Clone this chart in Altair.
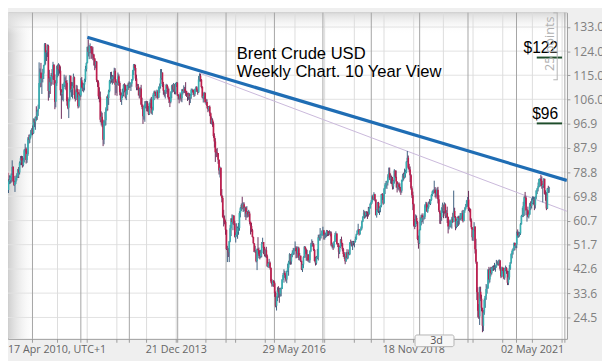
import altair as alt
import pandas as pd

# ---------------- data ----------------
first_open = 86.0  # open of the first weekly candle

# weekly candles (close, high, low), one list per year, week by week from its start Sunday
w2010 = [
    (86.2, 87.5, 83.8), (86.2, 88.9, 84.6),
    (80.1, 87.0, 77.9), (77.9, 83.0, 75.0), (71.0, 78.0, 69.7), (74.0, 75.4, 68.8), (72.1, 75.5, 71.1),
    (74.1, 75.5, 70.9), (77.4, 77.9, 73.1), (78.6, 79.3, 75.6), (72.1, 78.7, 71.6),
    (75.4, 76.1, 71.0), (75.9, 77.6, 74.3), (76.9, 77.4, 74.5), (77.9, 78.3, 74.9),
    (80.7, 83.2, 77.8), (75.4, 81.0, 75.0), (74.0, 77.4, 73.6), (75.2, 75.6, 71.4), (76.7, 77.5, 74.4),
    (77.1, 78.4, 75.7), (79.6, 80.0, 76.6), (78.7, 80.7, 76.6), (82.3, 82.8, 77.9),
    (84.0, 84.8, 81.4), (83.1, 84.9, 81.4), (81.5, 84.8, 80.5), (83.2, 84.2, 80.9), (87.0, 87.4, 82.4),
    (87.5, 89.4, 86.1), (83.3, 88.0, 82.0), (85.6, 86.7, 82.3), (91.4, 91.9, 84.9),
    (91.0, 92.8, 89.4), (92.1, 92.9, 89.7), (93.5, 94.5, 91.4), (94.8, 95.2, 92.7),
]
w2011 = [
    (93.3, 96.2, 92.6), (98.7, 98.8, 93.1), (97.4, 98.7, 95.6), (99.4, 99.6, 94.6), (99.2, 103.4, 98.0),
    (101.4, 102.0, 98.3), (102.5, 104.0, 99.8), (112.1, 119.8, 103.4), (116.0, 117.5, 110.4),
    (113.8, 119.6, 110.6), (113.9, 115.6, 108.0), (115.6, 117.4, 112.3), (118.7, 118.9, 113.6),
    (126.6, 127.0, 118.6), (123.5, 127.0, 119.0), (123.7, 124.3, 120.3), (125.9, 126.5, 121.8),
    (109.1, 126.4, 105.5), (113.8, 117.0, 106.6), (112.4, 114.3, 108.0), (115.1, 115.8, 111.0), (114.6, 117.3, 111.5),
    (118.8, 120.0, 113.4), (113.2, 119.2, 111.4), (105.1, 115.3, 102.3), (112.0, 112.7, 103.0),
    (118.3, 118.6, 111.0), (117.2, 119.0, 114.2), (118.7, 119.5, 114.8), (116.7, 119.0, 115.6),
    (109.4, 118.3, 107.4), (108.0, 109.8, 98.7), (108.6, 111.8, 105.7), (111.4, 111.6, 105.2), (112.3, 115.2, 110.6),
    (112.8, 114.2, 109.8), (112.2, 114.9, 109.4), (105.3, 113.2, 103.6), (102.8, 106.8, 102.3),
    (105.9, 106.2, 99.0), (114.8, 115.0, 105.2), (109.6, 113.9, 108.6), (109.9, 112.5, 106.9), (111.0, 112.4, 106.3),
    (114.2, 115.6, 110.3), (107.6, 114.5, 106.2), (106.4, 109.4, 105.2), (109.9, 111.4, 105.7),
    (108.6, 111.2, 106.8), (103.4, 109.8, 102.6), (107.9, 108.6, 102.9), (107.4, 109.7, 105.6),
]
w2012 = [
    (113.1, 113.9, 106.9), (110.4, 114.3, 110.0), (110.3, 112.3, 109.0), (111.5, 112.0, 108.6), (113.3, 113.7, 109.3),
    (117.3, 118.5, 112.5), (119.6, 119.8, 116.4), (125.5, 125.7, 119.4), (123.7, 128.4, 122.0),
    (125.7, 126.2, 121.0), (125.8, 126.9, 123.2), (125.1, 125.8, 121.1), (122.9, 125.9, 121.2),
    (122.7, 125.6, 120.6), (121.2, 123.0, 118.6), (118.7, 121.4, 116.9), (120.1, 120.4, 117.6), (113.2, 120.3, 112.5),
    (112.3, 113.3, 110.6), (107.1, 113.0, 106.1), (106.8, 110.5, 104.9), (98.4, 108.9, 97.4),
    (99.5, 101.5, 96.2), (97.0, 101.0, 95.6), (90.9, 98.4, 88.5), (97.8, 98.0, 89.2),
    (98.2, 101.3, 96.0), (102.4, 103.0, 96.3), (107.0, 107.1, 101.5), (106.5, 107.8, 101.8), (109.0, 109.6, 103.9),
    (112.9, 113.2, 108.6), (113.7, 116.2, 111.8), (113.6, 116.3, 112.2), (114.6, 115.1, 111.5),
    (114.3, 115.0, 112.0), (116.7, 117.8, 113.5), (111.4, 117.6, 107.5), (112.4, 112.9, 108.3), (112.0, 113.5, 107.3),
    (114.6, 116.0, 111.3), (112.1, 115.3, 111.0), (108.6, 112.7, 107.5), (105.7, 109.8, 105.0),
    (107.5, 108.4, 103.9), (108.9, 110.0, 106.5), (111.4, 111.6, 107.1), (111.2, 112.0, 108.6),
    (107.0, 111.5, 106.3), (109.2, 109.9, 105.7), (111.3, 111.5, 107.7), (111.1, 112.2, 109.5), (111.3, 112.7, 110.2),
]
w2013 = [
    (111.6, 112.4, 110.3), (111.9, 112.3, 109.1), (113.3, 113.6, 110.7), (116.8, 117.0, 112.9),
    (118.9, 119.2, 115.1), (117.7, 119.2, 116.8), (113.8, 118.9, 112.9), (110.4, 115.2, 109.4),
    (110.9, 111.8, 109.4), (109.8, 111.7, 107.4), (107.5, 110.3, 106.3), (110.0, 110.5, 106.8), (104.1, 111.4, 103.8),
    (103.1, 106.6, 102.3), (99.7, 104.0, 96.8), (103.2, 103.5, 98.4), (104.2, 105.3, 97.6),
    (104.6, 105.4, 102.6), (104.3, 105.4, 101.5), (102.6, 105.3, 101.4), (100.4, 103.5, 100.1),
    (104.6, 104.8, 100.2), (105.9, 106.3, 102.7), (101.0, 106.9, 100.6), (102.2, 103.2, 100.2), (107.7, 108.3, 101.8),
    (108.8, 109.2, 105.7), (108.1, 109.3, 107.2), (107.2, 108.7, 106.3), (108.9, 109.6, 106.6),
    (106.6, 109.4, 106.0), (110.4, 110.8, 106.8), (111.0, 111.9, 108.4), (114.0, 117.3, 110.0),
    (116.0, 117.3, 113.3), (111.7, 115.8, 110.6), (109.2, 112.5, 107.7), (108.6, 109.4, 107.0), (109.5, 109.6, 106.3),
    (111.3, 111.8, 108.0), (109.9, 111.6, 108.6), (106.9, 110.8, 106.3), (105.9, 110.0, 104.6),
    (105.1, 106.9, 103.1), (108.5, 109.0, 104.5), (111.1, 111.4, 106.4), (109.7, 111.6, 108.6),
    (111.6, 112.1, 108.8), (108.8, 111.5, 107.9), (111.8, 112.1, 107.8), (112.2, 112.5, 110.6), (107.8, 112.4, 107.2),
]
w2014 = [
    (107.3, 107.9, 105.9), (106.5, 107.5, 104.5), (107.9, 108.6, 105.9), (106.4, 108.2, 105.2),
    (109.6, 109.8, 104.9), (109.1, 109.9, 107.8), (109.9, 111.2, 108.4), (109.1, 110.6, 108.3),
    (108.9, 112.4, 107.3), (108.0, 109.2, 106.9), (106.9, 108.3, 105.4), (107.8, 108.5, 105.8), (106.7, 108.3, 103.8),
    (107.2, 108.0, 104.6), (109.5, 110.0, 106.2), (109.6, 110.0, 108.5), (108.6, 109.7, 107.6),
    (107.9, 109.0, 106.9), (109.8, 110.0, 107.2), (110.5, 110.8, 108.7), (109.4, 110.9, 108.8),
    (108.6, 109.7, 107.7), (113.4, 114.7, 108.4), (114.8, 115.7, 112.6), (113.3, 115.5, 112.6), (110.6, 113.6, 110.1),
    (106.7, 110.9, 106.3), (107.2, 108.5, 104.8), (108.4, 108.8, 106.0), (105.0, 108.6, 104.5),
    (105.0, 106.2, 103.9), (103.5, 106.0, 102.6), (102.3, 103.4, 101.2), (103.2, 103.5, 101.6), (100.8, 103.7, 99.7),
    (97.1, 101.1, 96.8), (98.4, 99.6, 96.6), (97.0, 98.9, 95.7), (92.3, 97.7, 91.6),
    (90.2, 93.3, 88.0), (86.2, 91.5, 82.6), (86.1, 87.5, 84.4), (85.9, 87.8, 84.5),
    (83.4, 85.9, 81.9), (79.4, 83.5, 77.9), (80.4, 80.9, 76.8), (70.2, 80.5, 69.8), (69.1, 72.5, 67.5),
    (61.9, 69.9, 61.8), (61.4, 64.7, 58.5), (60.2, 62.6, 59.3), (57.3, 60.8, 55.4),
]
w2015 = [
    (50.1, 57.0, 49.7), (50.2, 51.3, 45.2), (48.8, 50.5, 47.1), (53.0, 53.1, 45.2),
    (57.8, 59.1, 52.6), (61.5, 61.6, 54.9), (60.2, 63.0, 59.3), (62.6, 62.8, 57.1),
    (59.7, 62.0, 59.0), (54.7, 60.7, 54.4), (55.3, 56.3, 52.5), (56.4, 59.7, 54.7), (57.9, 58.5, 53.9),
    (57.9, 59.8, 55.4), (63.5, 64.2, 56.9), (65.3, 65.8, 61.9), (66.5, 67.1, 64.2),
    (65.4, 69.6, 64.9), (66.8, 67.5, 63.9), (65.4, 67.5, 64.2), (65.6, 66.0, 62.0), (63.3, 65.8, 60.9),
    (63.9, 66.1, 61.8), (63.0, 64.3, 61.9), (63.3, 64.7, 62.1), (60.3, 64.1, 59.3),
    (58.7, 59.9, 55.5), (57.1, 59.8, 56.5), (54.6, 57.6, 54.4), (52.2, 54.7, 52.0),
    (49.0, 51.4, 48.9), (49.2, 51.3, 48.6), (45.5, 49.7, 45.1), (50.1, 50.3, 42.2), (49.6, 54.5, 47.5),
    (48.1, 50.6, 46.6), (47.5, 49.6, 46.2), (48.6, 49.8, 46.7), (52.0, 52.7, 47.0),
    (52.7, 54.3, 51.9), (50.5, 52.6, 48.2), (48.0, 50.9, 47.3), (49.6, 49.9, 47.0),
    (47.4, 50.9, 46.7), (43.6, 48.0, 43.4), (44.7, 45.2, 43.0), (44.9, 46.4, 43.6), (43.0, 45.4, 42.4),
    (37.9, 43.2, 37.3), (36.9, 38.9, 36.0), (38.1, 38.3, 36.1), (37.3, 38.5, 35.9),
]
w2016 = [
    (33.6, 37.9, 32.2), (28.9, 34.2, 28.3), (32.2, 32.3, 27.1), (34.7, 35.8, 30.6), (34.1, 36.2, 31.9),
    (33.4, 35.6, 30.0), (35.0, 35.5, 32.3), (35.1, 35.8, 32.4), (38.7, 38.8, 35.6),
    (40.4, 41.1, 38.6), (41.2, 42.5, 37.5), (40.4, 41.9, 39.3), (38.7, 40.5, 37.9),
    (41.9, 42.0, 37.3), (43.1, 44.6, 41.5), (45.1, 45.7, 40.1), (48.1, 48.5, 44.3),
    (45.4, 48.1, 44.2), (47.8, 48.3, 44.3), (48.7, 49.6, 47.0), (49.3, 50.5, 47.8), (49.6, 50.3, 48.0),
    (50.5, 52.9, 49.3), (49.2, 51.1, 46.6), (48.4, 51.0, 46.7), (50.4, 51.0, 46.9),
    (46.8, 50.9, 45.9), (47.6, 48.6, 45.8), (45.7, 47.5, 45.2), (42.5, 45.5, 42.2), (44.3, 44.5, 41.5),
    (47.0, 47.4, 43.0), (50.9, 51.2, 46.8), (49.9, 51.0, 48.3), (46.8, 50.3, 45.7),
    (48.0, 49.8, 45.7), (45.8, 48.2, 45.3), (45.9, 47.9, 45.0), (49.2, 49.6, 44.9),
    (51.9, 52.4, 48.9), (51.9, 53.7, 50.9), (51.8, 53.1, 51.0), (49.7, 52.3, 49.3), (45.6, 50.1, 45.4),
    (44.8, 47.2, 43.9), (46.9, 47.5, 44.2), (47.2, 50.1, 46.3), (54.5, 55.4, 45.8),
    (54.3, 55.5, 53.2), (55.2, 57.9, 53.2), (55.2, 55.8, 54.0), (56.8, 57.1, 55.1),
]
w2017 = [
    (57.1, 58.4, 55.1), (55.5, 57.0, 53.6), (55.5, 56.2, 53.6), (55.5, 56.2, 54.2), (56.8, 57.2, 54.6),
    (56.7, 57.1, 54.9), (55.8, 56.6, 55.0), (56.0, 57.1, 55.4), (55.9, 56.7, 54.8),
    (51.4, 56.6, 51.0), (51.8, 52.5, 50.3), (50.8, 52.0, 49.7), (52.8, 53.0, 50.3),
    (55.2, 56.1, 52.7), (55.9, 56.7, 55.1), (52.0, 55.8, 51.8), (51.7, 52.4, 50.8), (49.1, 52.3, 46.6),
    (50.8, 51.2, 48.2), (53.6, 53.8, 50.5), (52.2, 54.7, 51.1), (50.0, 52.4, 49.2),
    (48.2, 50.5, 47.1), (47.4, 48.9, 46.4), (45.5, 47.3, 44.4), (48.8, 48.9, 45.3),
    (46.7, 50.0, 46.2), (48.9, 49.0, 46.3), (48.1, 49.9, 47.7), (52.5, 52.6, 47.8), (52.4, 53.6, 51.4),
    (52.1, 53.0, 51.0), (52.7, 53.1, 49.7), (52.4, 53.1, 51.4), (52.8, 53.0, 50.7),
    (53.8, 54.7, 52.5), (55.6, 55.8, 53.5), (56.9, 57.1, 55.4), (57.5, 59.5, 56.5),
    (55.6, 57.5, 55.1), (57.2, 57.3, 55.4), (57.8, 58.5, 56.8), (60.4, 60.7, 57.3), (62.1, 62.3, 60.1),
    (63.5, 64.7, 61.7), (62.7, 64.2, 61.4), (63.9, 64.1, 61.8), (63.7, 64.2, 62.2),
    (63.4, 64.1, 61.3), (63.2, 65.8, 62.2), (65.3, 65.8, 62.9), (66.9, 67.3, 65.2), (67.6, 68.3, 66.6),
]
w2018 = [
    (69.9, 70.1, 67.0), (68.6, 70.4, 68.3), (70.5, 71.3, 68.3), (68.6, 70.7, 67.9),
    (62.8, 68.6, 62.6), (64.8, 65.0, 61.8), (67.3, 67.6, 63.9), (64.4, 67.7, 63.5),
    (65.5, 66.0, 62.8), (66.2, 66.4, 63.8), (70.5, 70.6, 65.7), (70.3, 71.0, 68.4),
    (67.1, 70.5, 66.6), (72.6, 72.9, 67.3), (74.1, 74.7, 70.6), (74.6, 75.5, 73.0), (74.9, 75.6, 72.5),
    (77.1, 78.0, 73.8), (78.5, 80.5, 76.8), (76.4, 80.5, 75.8), (76.8, 78.2, 74.5),
    (76.5, 77.5, 74.3), (73.4, 77.0, 72.3), (75.6, 75.9, 72.4), (79.4, 79.9, 74.5),
    (77.1, 79.4, 76.6), (75.3, 79.4, 73.0), (73.1, 75.4, 71.2), (74.3, 74.8, 72.3), (73.2, 75.0, 71.9),
    (72.8, 74.6, 71.2), (71.8, 73.3, 70.3), (75.8, 76.0, 71.1), (77.4, 78.2, 75.2),
    (76.8, 78.6, 75.7), (78.1, 80.1, 76.4), (78.8, 79.7, 76.8), (82.7, 82.9, 78.5), (84.2, 86.7, 82.5),
    (80.4, 85.0, 79.9), (79.8, 81.9, 78.8), (77.6, 80.9, 75.1), (72.8, 78.0, 72.2),
    (70.2, 73.5, 69.1), (66.8, 71.5, 64.6), (58.8, 67.1, 58.4), (58.7, 61.3, 57.5),
    (61.7, 63.0, 58.3), (60.3, 62.6, 59.4), (53.8, 60.5, 53.4), (52.2, 55.1, 50.2), (57.1, 57.4, 52.0),
]
w2019 = [
    (60.5, 61.9, 57.3), (62.7, 62.9, 58.9), (61.6, 63.4, 60.1), (61.9, 62.6, 59.5),
    (62.1, 63.4, 61.0), (66.3, 66.8, 61.3), (67.1, 67.7, 65.5), (64.1, 67.6, 64.0),
    (65.7, 66.5, 63.6), (67.2, 67.8, 65.1), (67.0, 68.7, 66.8), (68.4, 68.6, 66.5), (70.3, 70.6, 68.1),
    (71.6, 71.9, 69.8), (71.9, 72.3, 70.7), (72.2, 75.6, 71.1), (70.9, 73.2, 69.4),
    (70.6, 72.3, 68.9), (72.2, 73.0, 69.6), (68.7, 73.3, 67.1), (64.5, 70.2, 63.9),
    (63.3, 64.0, 59.5), (62.0, 63.6, 59.4), (65.2, 65.7, 60.6), (66.6, 67.4, 63.6), (64.2, 66.0, 61.6),
    (66.7, 67.5, 63.3), (62.5, 67.1, 61.6), (63.5, 64.6, 61.7), (62.0, 65.9, 59.8),
    (58.5, 62.2, 55.9), (58.6, 61.1, 57.4), (59.3, 60.7, 58.2), (60.4, 61.1, 58.1),
    (61.5, 62.1, 57.7), (60.2, 63.6, 59.8), (64.3, 71.9, 62.2), (61.9, 65.5, 61.7), (58.4, 62.4, 57.1),
    (60.5, 61.4, 57.8), (62.0, 62.2, 58.3), (61.7, 62.5, 58.7), (61.7, 62.5, 59.2),
    (62.5, 63.5, 60.9), (63.3, 63.5, 60.6), (63.4, 64.4, 61.2), (60.5, 64.7, 60.0),
    (64.4, 64.6, 60.4), (65.2, 65.7, 63.6), (66.1, 66.9, 64.8), (68.2, 68.3, 65.8), (68.6, 69.5, 65.9),
]
w2020 = [
    (65.0, 71.8, 64.3), (64.9, 65.6, 63.8), (60.7, 65.2, 60.3), (58.2, 61.5, 57.5),
    (54.5, 58.0, 53.2), (57.3, 57.7, 53.1), (58.5, 60.1, 56.7), (50.0, 58.5, 48.4),
    (45.3, 53.9, 44.6), (33.9, 38.2, 31.0), (27.0, 35.8, 24.5), (24.9, 29.5, 24.0), (34.1, 36.0, 21.7),
    (31.5, 36.0, 30.6), (28.1, 33.0, 26.8), (21.4, 26.8, 19.0), (26.4, 27.3, 19.4),
    (31.0, 31.6, 25.5), (32.5, 32.6, 28.1), (35.1, 37.0, 31.1), (35.3, 36.5, 33.4), (42.3, 42.6, 36.3),
    (38.7, 43.4, 37.2), (42.2, 42.9, 37.6), (41.0, 43.4, 39.8), (42.8, 43.4, 40.5),
    (43.2, 43.8, 41.9), (43.1, 44.0, 41.9), (43.3, 44.9, 42.3), (43.3, 44.0, 41.6),
    (44.4, 46.0, 43.1), (44.8, 45.5, 44.0), (44.4, 45.9, 43.8), (45.8, 46.2, 44.2), (42.7, 46.0, 42.0),
    (39.8, 43.0, 39.2), (43.2, 43.5, 39.6), (41.9, 43.0, 40.9), (39.3, 43.0, 38.8),
    (42.9, 43.1, 38.6), (42.9, 43.9, 41.8), (41.8, 43.3, 40.8), (37.5, 42.0, 36.6),
    (39.5, 41.9, 36.6), (42.8, 44.1, 38.6), (45.0, 45.2, 42.3), (48.2, 48.5, 44.6), (49.3, 49.9, 46.6),
    (50.0, 50.5, 48.0), (52.3, 52.5, 49.4), (51.3, 52.5, 49.6), (51.8, 52.0, 50.4),
]
w2021 = [
    (56.0, 56.6, 50.4), (55.1, 57.4, 54.3), (55.4, 56.6, 54.3), (55.9, 56.4, 54.7), (59.3, 59.8, 55.3),
    (62.4, 62.8, 59.2), (62.9, 65.5, 62.0), (66.1, 67.7, 62.0), (69.4, 69.8, 62.4),
    (69.2, 71.4, 66.8), (64.5, 69.8, 62.7), (64.6, 65.0, 60.3), (62.2, 65.9, 61.9),
    (63.0, 64.0, 61.5), (66.8, 67.3, 62.8), (66.1, 67.9, 64.6), (67.3, 69.0, 65.2),
    (68.3, 69.8, 66.8), (68.7, 69.7, 66.7), (66.4, 69.5, 64.6), (69.6, 69.8, 65.2), (71.9, 72.0, 68.8),
    (72.7, 72.9, 70.6), (73.5, 74.9, 71.6), (76.2, 76.3, 73.1), (76.2, 76.6, 73.3),
    (75.6, 77.8, 73.6), (73.6, 77.2, 72.6), (74.1, 74.5, 67.5), (76.3, 76.5, 72.9),
    (70.7, 76.1, 70.4), (70.6, 72.0, 68.1), (65.2, 71.3, 64.6), (72.7, 72.9, 65.0), (72.6, 73.7, 71.0),
    (72.9, 73.3, 71.1),
]
segments = [
    ("2010-04-18", w2010), ("2011-01-02", w2011), ("2012-01-01", w2012), ("2013-01-06", w2013),
    ("2014-01-05", w2014), ("2015-01-04", w2015), ("2016-01-03", w2016), ("2017-01-01", w2017),
    ("2018-01-07", w2018), ("2019-01-06", w2019), ("2020-01-05", w2020), ("2021-01-03", w2021),
]

# trend lines (date, price)
blue_dates = ["2012-02-19", "2022-01-16"]
blue_prices = [129.2, 75.7]
thin_dates = ["2014-06-15", "2022-01-16"]
thin_prices = [115.8, 64.2]

# annotations
title_lines = ["Brent Crude USD", "Weekly Chart. 10 Year View"]
level_prices = [121.6, 97.0]
level_texts = ["$122", "$96"]
bracket_top = 138.3
bracket_points = 25

# axes
ytick_values = [24.5, 33.6, 42.6, 51.7, 60.7, 69.8, 78.8, 87.9, 96.9, 106.0, 115.0, 124.0, 133.0]
first_label_text = "17 Apr 2010, UTC+1"
label_dates = ["2013-12-21", "2016-05-29", "2018-11-18", "2021-05-02"]
label_texts = ["21 Dec 2013", "29 May 2016", "18 Nov 2018", "02 May 2021"]
year_lines = [f"{y}-01-01" for y in range(2011, 2023)]
grid_start = "2010-04-17"
grid_step_weeks = 32
grid_count = 19

# ---------------- build ----------------
rows = []
prev = first_open
for start, weeks in segments:
    d0 = pd.Timestamp(start)
    for i, (c, h, l) in enumerate(weeks):
        o = prev
        rows.append({
            "date": d0 + pd.Timedelta(days=7 * i),
            "open": o, "close": c,
            "high": max(h, o, c), "low": min(l, o, c),
            "dir": "up" if c >= o else "down",
        })
        prev = c
candles = pd.DataFrame(rows)

light_dates = [pd.Timestamp(grid_start) + pd.Timedelta(weeks=grid_step_weeks * k) for k in range(2, grid_count + 1)]
year_dates = list(pd.to_datetime(year_lines))

W, H = 574, 335
UP, DOWN = "#36afb1", "#bf1d4c"
UP_WICK, DOWN_WICK = "#3d5f80", "#6a2a58"

x_scale = alt.Scale(domain=[alt.DateTime(year=2010, month=6, date=30, hours=7),
                            alt.DateTime(year=2022, month=1, date=16, hours=16)])
y_scale = alt.Scale(domain=[16.51, 138.37], zero=False, nice=False)
y_axis = alt.Axis(orient="right", values=ytick_values, format=".1f", grid=False, domain=False,
                  tickSize=3, tickColor="#9a9a9a", labelColor="#808080", labelFont="Open Sans",
                  labelFontSize=12.5, labelPadding=3, title=None, labelOverlap=False, labelFlush=False)


def X(field):
    return alt.X(field, type="temporal", scale=x_scale, axis=None)


def Y(field):
    return alt.Y(field, type="quantitative", scale=y_scale, axis=y_axis)


one = pd.DataFrame({"k": [0]})

left_shade = alt.Chart(one).mark_rect(fill=alt.Gradient(
    gradient="linear", x1=0, x2=1, y1=0, y2=0,
    stops=[alt.GradientStop(color="#cfcfcf", offset=0),
           alt.GradientStop(color="rgba(255,255,255,0)", offset=1)])
).encode(x=alt.value(0), x2=alt.value(30), y=alt.value(0), y2=alt.value(H))

top_shade = alt.Chart(one).mark_rect(fill=alt.Gradient(
    gradient="linear", x1=0, x2=0, y1=0, y2=1,
    stops=[alt.GradientStop(color="#dadada", offset=0),
           alt.GradientStop(color="rgba(255,255,255,0)", offset=1)])
).encode(x=alt.value(0), x2=alt.value(W), y=alt.value(0), y2=alt.value(22))

hgrid = alt.Chart(pd.DataFrame({"v": ytick_values})).mark_rule(color="#e1e1e1", strokeWidth=1).encode(y=Y("v"))
vgrid_light = alt.Chart(pd.DataFrame({"d": light_dates})).mark_rule(color="#dcdcdc", strokeWidth=1).encode(x=X("d"))
vgrid_year = alt.Chart(pd.DataFrame({"d": year_dates})).mark_rule(color="#a3a3a3", strokeWidth=1).encode(x=X("d"))
xticks = alt.Chart(pd.DataFrame({"d": light_dates + year_dates})).mark_rule(color="#9a9a9a").encode(
    x=X("d"), y=alt.value(H), y2=alt.value(H + 4))

thin_line = alt.Chart(pd.DataFrame({"d": pd.to_datetime(thin_dates), "p": thin_prices})).mark_line(
    color="#c9b7da", strokeWidth=1, clip=True).encode(x=X("d"), y=Y("p"))

body_color = alt.Color("dir:N", scale=alt.Scale(domain=["up", "down"], range=[UP, DOWN]), legend=None)
wick_color = alt.Color("dir:N", scale=alt.Scale(domain=["up", "down"], range=[UP_WICK, DOWN_WICK]), legend=None)
wicks = alt.Chart(candles).mark_rule(strokeWidth=1, clip=True).encode(
    x=X("date"), y=Y("low"), y2=alt.Y2("high"),
    stroke=alt.Stroke("dir:N", scale=alt.Scale(domain=["up", "down"], range=[UP_WICK, DOWN_WICK]), legend=None))
bodies = alt.Chart(candles).mark_rule(strokeWidth=1.7, clip=True).encode(
    x=X("date"), y=Y("open"), y2=alt.Y2("close"), color=body_color)

blue_line = alt.Chart(pd.DataFrame({"d": pd.to_datetime(blue_dates), "p": blue_prices})).mark_line(
    color="#1f6db4", strokeWidth=3.3, clip=True).encode(x=X("d"), y=Y("p"))

title1 = alt.Chart(one).mark_text(text=title_lines[0], font="Liberation Sans", fontSize=17, color="#000000",
                                  align="left", baseline="alphabetic").encode(x=alt.value(235), y=alt.value(48))
title2 = alt.Chart(one).mark_text(text=title_lines[1], font="Liberation Sans", fontSize=17, color="#000000",
                                  align="left", baseline="alphabetic").encode(x=alt.value(235), y=alt.value(66))

levels = pd.DataFrame({"p": level_prices, "t": level_texts})
level_rules = alt.Chart(levels).mark_rule(color="#1e4d2b", strokeWidth=2).encode(
    y=Y("p"), x=alt.value(543), x2=alt.value(569))
level_labels = alt.Chart(levels).mark_text(font="Liberation Sans", fontSize=16, color="#000000",
                                           align="right", baseline="alphabetic", dy=-5).encode(
    y=Y("p"), x=alt.value(565), text="t:N")

br = pd.DataFrame({"top": [bracket_top], "bot": [bracket_top - bracket_points]})
bracket_v = alt.Chart(br).mark_rule(color="#b3b3b3").encode(x=alt.value(564), y=Y("top"), y2=alt.Y2("bot"))
bracket_t = alt.Chart(br).mark_rule(color="#b3b3b3").encode(x=alt.value(560), x2=alt.value(564.5), y=Y("top"))
bracket_b = alt.Chart(br).mark_rule(color="#b3b3b3").encode(x=alt.value(560), x2=alt.value(564.5), y=Y("bot"))
points_text = alt.Chart(one).mark_text(text=f"{bracket_points} points", angle=270, font="Open Sans", fontSize=13,
                                       color="#b0b0b0", align="center", baseline="middle").encode(
    x=alt.value(557), y=alt.value(32))

xlabels = alt.Chart(pd.DataFrame({"d": pd.to_datetime(label_dates), "t": label_texts})).mark_text(
    font="Open Sans", fontSize=11, color="#666666", align="center", baseline="alphabetic").encode(
    x=X("d"), y=alt.value(H + 15), text="t:N")
first_label = alt.Chart(one).mark_text(text=first_label_text, font="Open Sans", fontSize=11, color="#666666",
                                       align="left", baseline="alphabetic").encode(x=alt.value(0), y=alt.value(H + 15))

btn = alt.Chart(one).mark_rect(fill="#f7f7f7", stroke="#b3b3b3", strokeWidth=1, cornerRadius=2).encode(
    x=alt.value(418), x2=alt.value(458), y=alt.value(331), y2=alt.value(343))
btn_text = alt.Chart(one).mark_text(text="3d", font="Open Sans", fontSize=11, color="#555555",
                                    align="center", baseline="alphabetic").encode(x=alt.value(440), y=alt.value(340))

chart = alt.layer(
    left_shade, top_shade, hgrid, vgrid_light, vgrid_year, xticks, thin_line, wicks, bodies, blue_line,
    title1, title2, level_rules, level_labels, bracket_v, bracket_t, bracket_b, points_text,
    xlabels, first_label, btn, btn_text,
).resolve_scale(color="independent", stroke="independent").properties(
    width=W, height=H, background="#efefef",
    padding={"left": 0, "top": 0, "right": 36, "bottom": 20},
    autosize=alt.AutoSizeParams(type="none"),
).configure_view(fill="white", stroke="#9a9a9a", strokeWidth=1)

chart.save("out.html", embed_options={"renderer": "svg", "actions": False})
